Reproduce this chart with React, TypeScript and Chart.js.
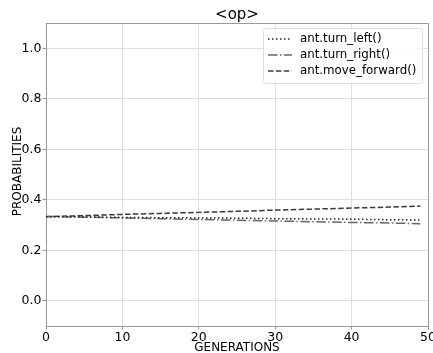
import React, { useEffect, useRef } from "react";
import { Chart, registerables } from "chart.js";

Chart.register(...registerables);

const TITLE = "<op>";
const X_LABEL = "GENERATIONS";
const Y_LABEL = "PROBABILITIES";
const generations = [0, 5, 10, 15, 20, 25, 30, 35, 40, 45, 49];
const turnLeft = [0.333, 0.332, 0.330, 0.329, 0.328, 0.327, 0.325, 0.324, 0.323, 0.321, 0.320];
const turnRight = [0.334, 0.331, 0.328, 0.325, 0.322, 0.319, 0.316, 0.313, 0.310, 0.308, 0.305];
const moveForward = [0.333, 0.337, 0.342, 0.346, 0.350, 0.354, 0.359, 0.363, 0.367, 0.371, 0.375];
const seriesNames = ["ant.turn_left()", "ant.turn_right()", "ant.move_forward()"];
const xTicks = [0, 10, 20, 30, 40, 50];
const yTicks = [0, 0.2, 0.4, 0.6, 0.8, 1.0];

const FONT = "'DejaVu Sans', sans-serif";
const colors = ["#222222", "#666666", "#3a3a3a"];
const dashes = [[1.5, 2.5], [9.6, 2.4, 1.5, 2.4], [5.5, 2.4]];
const SPINE = "#999999";

const overlay = {
  id: "overlay",
  afterDraw(chart: any) {
    const ctx = chart.ctx;
    const a = chart.chartArea;
    ctx.save();
    ctx.strokeStyle = SPINE;
    ctx.lineWidth = 1;
    ctx.beginPath();
    ctx.moveTo(a.left, a.top + 0.5);
    ctx.lineTo(a.right + 0.5, a.top + 0.5);
    ctx.lineTo(a.right + 0.5, a.bottom);
    ctx.stroke();

    ctx.fillStyle = "#000";
    ctx.textAlign = "center";
    ctx.textBaseline = "middle";
    ctx.font = `15px ${FONT}`;
    ctx.fillText(TITLE, (a.left + a.right) / 2, 15);
    ctx.font = `12px ${FONT}`;
    ctx.fillText(X_LABEL, (a.left + a.right) / 2, 347.5);
    ctx.save();
    ctx.translate(18, 171.5);
    ctx.rotate(-Math.PI / 2);
    ctx.fillText(Y_LABEL, 0, 0);
    ctx.restore();

    const bx = 263, by = 28, bw = 159, bh = 55;
    ctx.fillStyle = "rgba(255,255,255,0.85)";
    ctx.strokeStyle = "#dddddd";
    ctx.lineWidth = 1;
    ctx.beginPath();
    ctx.roundRect(bx + 0.5, by + 0.5, bw, bh, 3);
    ctx.fill();
    ctx.stroke();
    ctx.font = `11.8px ${FONT}`;
    ctx.textAlign = "left";
    for (let i = 0; i < 3; i++) {
      const y = by + 11 + i * 16;
      ctx.strokeStyle = colors[i];
      ctx.lineWidth = 1.5;
      ctx.setLineDash(dashes[i]);
      ctx.beginPath();
      ctx.moveTo(268, y);
      ctx.lineTo(292, y);
      ctx.stroke();
      ctx.setLineDash([]);
      ctx.fillStyle = "#000";
      ctx.fillText(seriesNames[i], 300, y);
    }
    ctx.restore();
  },
};

export default function App() {
  const ref = useRef<HTMLCanvasElement>(null);
  useEffect(() => {
    document.body.style.margin = "0";
    const mk = (vals: number[], i: number) => ({
      label: seriesNames[i],
      data: generations.map((g, k) => ({ x: g, y: vals[k] })),
      borderColor: colors[i],
      borderWidth: 1.5,
      borderDash: dashes[i],
      pointRadius: 0,
      fill: false,
      tension: 0,
    });
    const chart = new Chart(ref.current!, {
      type: "line",
      data: { datasets: [mk(turnLeft, 0), mk(turnRight, 1), mk(moveForward, 2)] },
      plugins: [overlay],
      options: {
        animation: false,
        responsive: false,
        events: [],
        layout: { padding: { top: 23, right: 5, left: 0, bottom: 0 } },
        plugins: { legend: { display: false }, title: { display: false }, tooltip: { enabled: false } },
        scales: {
          x: {
            type: "linear",
            min: 0,
            max: 50,
            afterBuildTicks: (s: any) => { s.ticks = xTicks.map((v) => ({ value: v })); },
            afterFit: (s: any) => { s.height = 27; s.paddingLeft = 0; s.paddingRight = 0; },
            grid: { color: "#dedede", tickLength: 3.5, tickColor: SPINE, drawTicks: true },
            border: { color: SPINE, width: 1 },
            ticks: { font: { family: FONT, size: 12.5 }, color: "#000", padding: 1, maxRotation: 0, autoSkip: false },
          },
          y: {
            type: "linear",
            min: -0.1,
            max: 1.1,
            afterBuildTicks: (s: any) => { s.ticks = yTicks.map((v) => ({ value: v })); },
            afterFit: (s: any) => { s.width = 46; s.paddingTop = 0; s.paddingBottom = 0; },
            grid: { color: "#dedede", tickLength: 3.5, tickColor: SPINE },
            border: { color: SPINE, width: 1 },
            ticks: {
              font: { family: FONT, size: 12.5 },
              color: "#000",
              padding: 1,
              autoSkip: false,
              callback: (v: any) => Number(v).toFixed(1),
            },
          },
        },
      },
    } as any);
    return () => chart.destroy();
  }, []);
  return <canvas ref={ref} width={433} height={353} style={{ display: "block" }} />;
}
